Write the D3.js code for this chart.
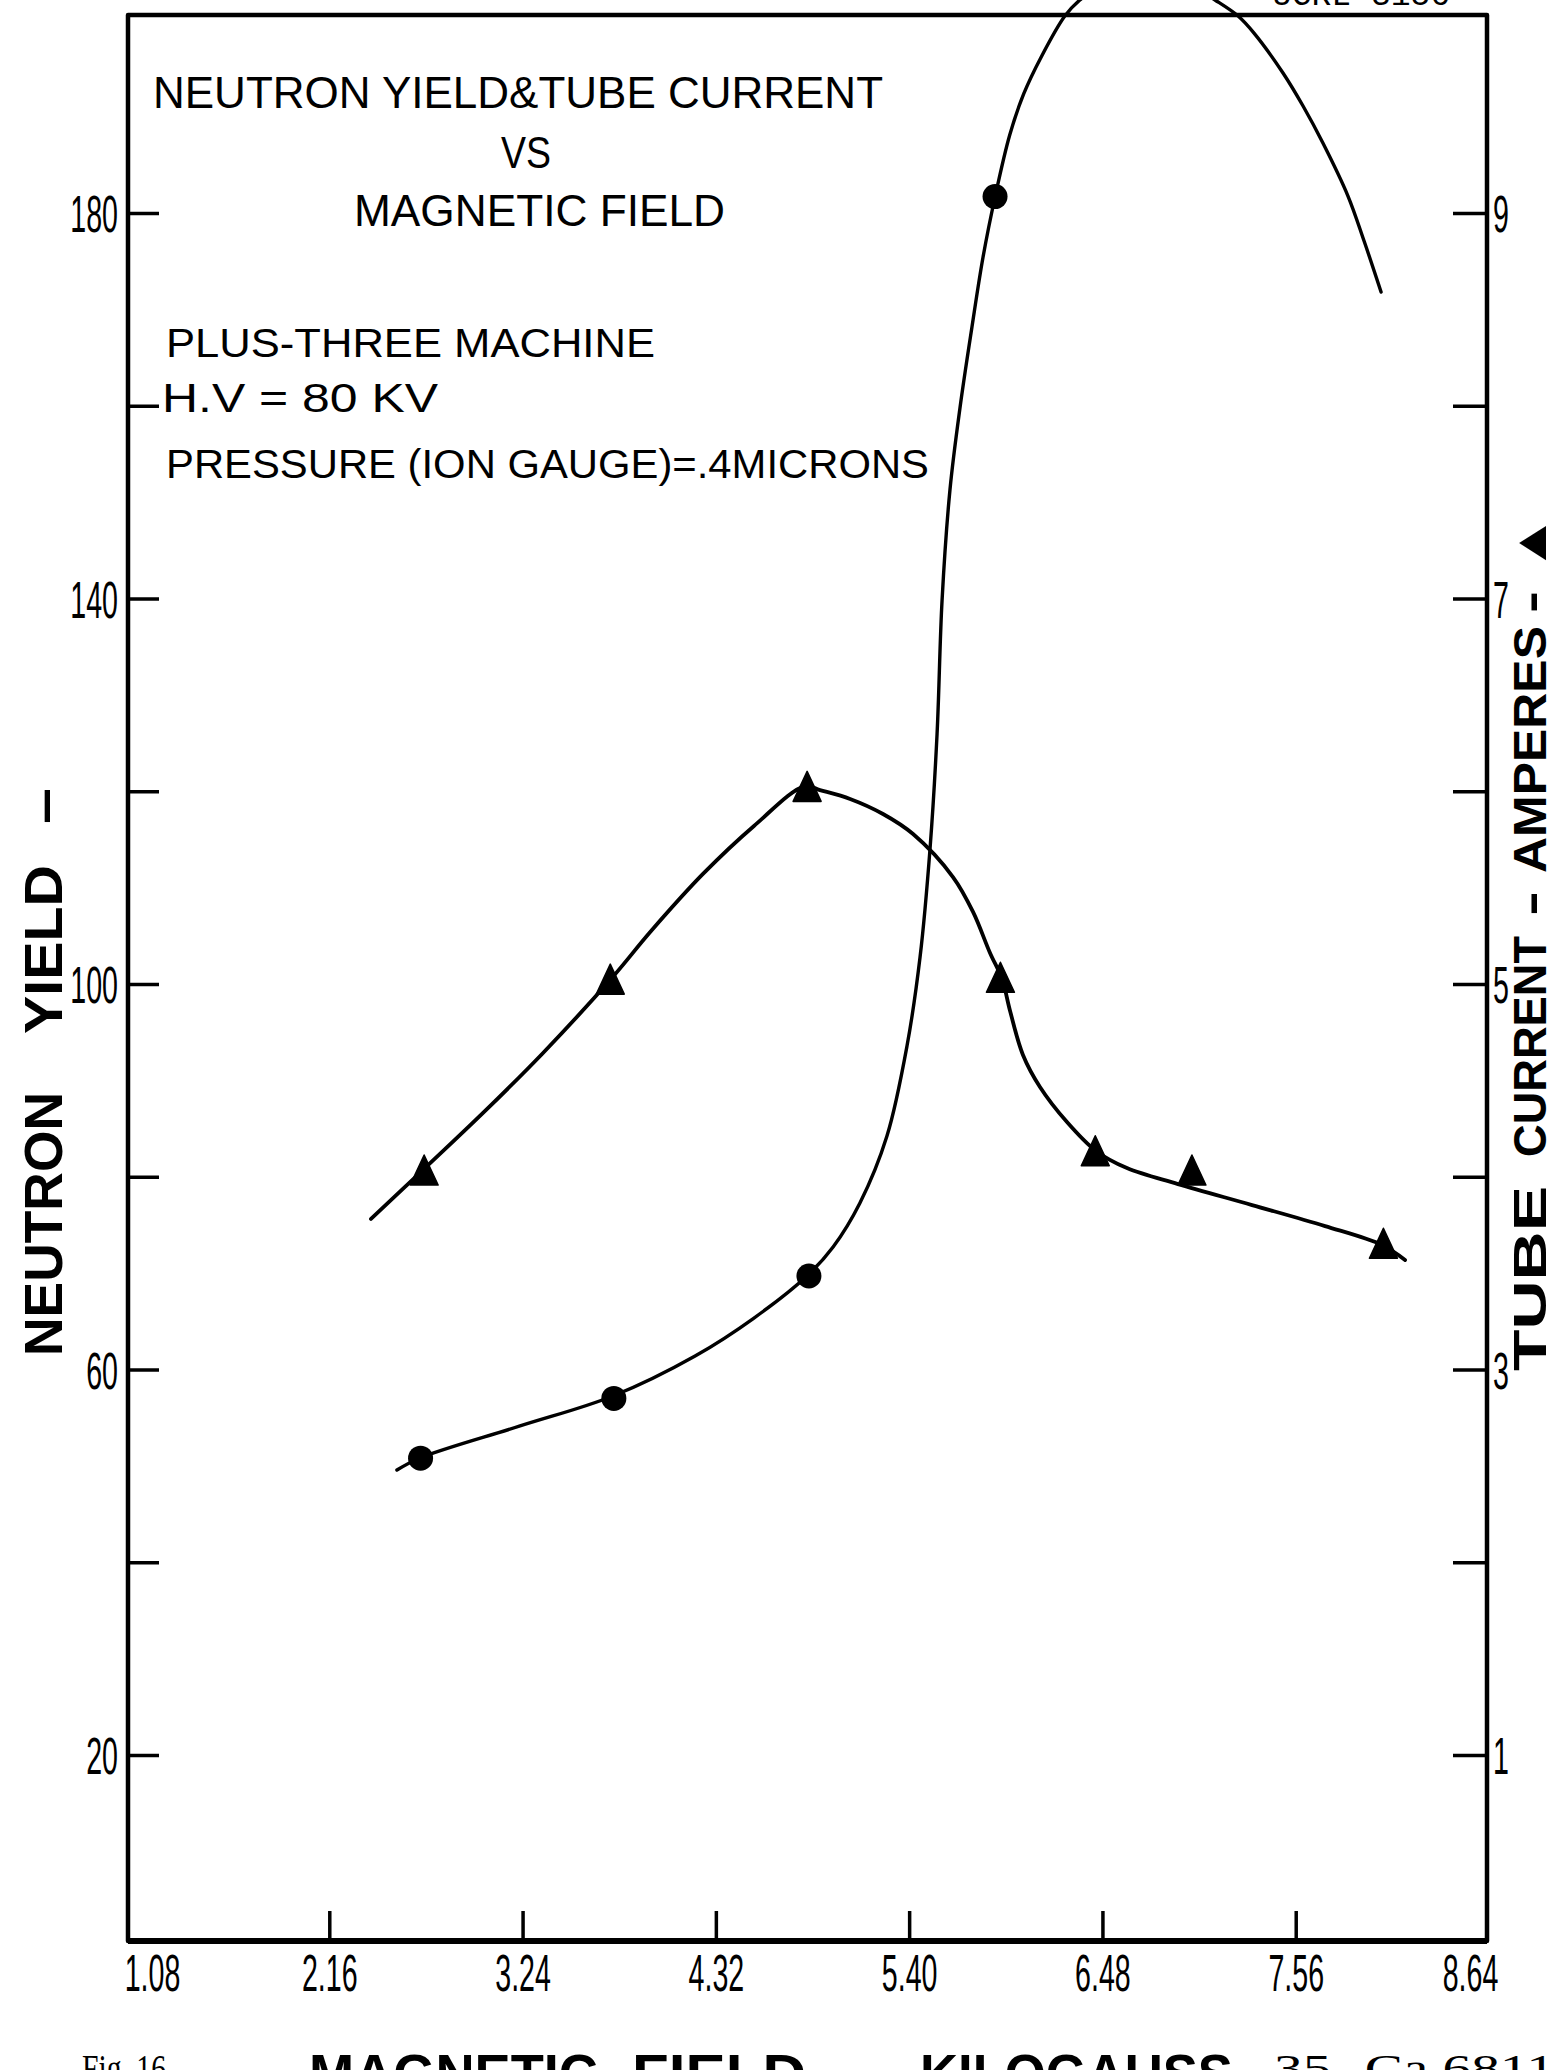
<!DOCTYPE html>
<html><head><meta charset="utf-8">
<script src="https://cdn.jsdelivr.net/npm/d3@7"></script>
<style>html,body{margin:0;padding:0;background:#fff;overflow:hidden}svg{display:block}</style>
</head><body><svg id="c" width="1557" height="2070"></svg>
<script>
// ---------- data ----------
const xTickValues = [1.08, 2.16, 3.24, 4.32, 5.40, 6.48, 7.56, 8.64];
const xTickLabels = ["1.08", "2.16", "3.24", "4.32", "5.40", "6.48", "7.56", "8.64"];
const yieldTickValues = [20, 40, 60, 80, 100, 120, 140, 160, 180];
const yieldTickLabels = ["20", "", "60", "", "100", "", "140", "", "180"];
const currentTickValues = [1, 2, 3, 4, 5, 6, 7, 8, 9];
const currentTickLabels = ["1", "", "3", "", "5", "", "7", "", "9"];

// measured points (kilogauss, neutron yield) - circles
const yieldPointsX = [2.67, 3.75, 4.84, 5.88];
const yieldPointsY = [50.8, 57.0, 69.7, 181.7];
// measured points (kilogauss, tube current A) - triangles
const currentPointsX = [2.69, 3.73, 4.83, 5.91, 6.44, 6.98, 8.05];
const currentPointsY = [4.03, 5.02, 6.02, 5.03, 4.13, 4.03, 3.65];

// hand-drawn smooth curves
const yieldCurveX = [2.538, 2.667, 3.226, 3.745, 4.204, 4.533, 4.835, 4.975, 5.125, 5.276, 5.388, 5.461, 5.517, 5.556, 5.584, 5.628, 5.684, 5.751, 5.813, 5.880, 5.962, 6.040, 6.138, 6.270, 6.354, 6.522, 6.718, 6.941, 7.109, 7.238, 7.327, 7.489, 7.601, 7.712, 7.852, 7.942, 8.037];
const yieldCurveY = [49.57, 50.82, 54.14, 57.25, 61.40, 65.34, 69.81, 72.71, 77.28, 84.23, 93.57, 102.80, 114.11, 125.94, 139.84, 151.26, 159.77, 168.17, 175.43, 181.66, 188.09, 192.35, 196.19, 200.44, 202.10, 204.17, 205.0, 203.97, 202.10, 200.44, 198.67, 194.53, 191.10, 187.26, 181.76, 177.09, 171.80];
const currentCurveX = [2.393, 2.689, 3.019, 3.349, 3.734, 3.958, 4.248, 4.533, 4.818, 4.902, 5.070, 5.254, 5.422, 5.645, 5.757, 5.852, 5.919, 5.964, 6.036, 6.131, 6.282, 6.444, 6.617, 6.902, 7.316, 7.724, 8.042, 8.171];
const currentCurveY = [3.781, 4.040, 4.331, 4.637, 5.026, 5.275, 5.571, 5.820, 6.027, 6.006, 5.960, 5.882, 5.778, 5.555, 5.374, 5.161, 5.026, 4.860, 4.632, 4.466, 4.284, 4.134, 4.045, 3.962, 3.853, 3.744, 3.646, 3.568];

// ---------- layout ----------
const svg = d3.select("#c");
const FR = {l: 128, r: 1487, t: 15, b: 1941};
const x = d3.scaleLinear().domain([1.08, 8.64]).range([136, 1489]);
const yL = d3.scaleLinear().domain([20, 180]).range([1755, 213]);
const yR = d3.scaleLinear().domain([1, 9]).range([1755, 213]);
const numFont = "'Liberation Sans', Arial, sans-serif";
const letterFont = "'Liberation Sans Narrow', 'Liberation Sans', Arial, sans-serif";
const SX = 0.55;

// frame
svg.append("path")
  .attr("d", `M${FR.l},${FR.t}H${FR.r}V${FR.b}H${FR.l}Z`)
  .attr("fill", "none").attr("stroke", "#000").attr("stroke-width", 4.5).attr("stroke-linejoin", "round");
svg.append("line").attr("x1", FR.l).attr("x2", FR.r).attr("y1", FR.b).attr("y2", FR.b)
  .attr("stroke", "#000").attr("stroke-width", 6);

// bottom axis
const gB = svg.append("g").attr("transform", `translate(0,${FR.b})`)
  .call(d3.axisBottom(x).tickValues(xTickValues)
    .tickFormat(d => xTickLabels[xTickValues.indexOf(d)])
    .tickSizeInner(-30).tickSizeOuter(0).tickPadding(13));
gB.select(".domain").remove();
gB.selectAll(".tick line").attr("stroke", "#000").attr("stroke-width", 3.5)
  .attr("display", d => (d === xTickValues[0] || d === xTickValues[xTickValues.length - 1]) ? "none" : null);
gB.selectAll(".tick text").attr("font-family", numFont).attr("font-size", 52).attr("fill", "#000")
  .attr("transform", d => {
    const dx = d === xTickValues[0] ? 16 : (d === xTickValues[xTickValues.length - 1] ? -19 : 0);
    return `translate(${dx},0) scale(${SX},1)`;
  });

// left axis (neutron yield)
const gL = svg.append("g").attr("transform", `translate(${FR.l},0)`)
  .call(d3.axisLeft(yL).tickValues(yieldTickValues)
    .tickFormat(d => yieldTickLabels[yieldTickValues.indexOf(d)])
    .tickSizeInner(-31).tickSizeOuter(0).tickPadding(9));
gL.select(".domain").remove();
gL.selectAll(".tick line").attr("stroke", "#000").attr("stroke-width", 3.5);
gL.selectAll(".tick text").attr("x", 0).attr("dy", "0.36em")
  .attr("font-family", numFont).attr("font-size", 52).attr("fill", "#000")
  .attr("transform", `translate(-10,0) scale(${SX},1)`);

// right axis (tube current)
const gR = svg.append("g").attr("transform", `translate(${FR.r},0)`)
  .call(d3.axisRight(yR).tickValues(currentTickValues)
    .tickFormat(d => currentTickLabels[currentTickValues.indexOf(d)])
    .tickSizeInner(-34).tickSizeOuter(0).tickPadding(6));
gR.select(".domain").remove();
gR.selectAll(".tick line").attr("stroke", "#000").attr("stroke-width", 3.5);
gR.selectAll(".tick text").attr("x", 0).attr("dy", "0.36em")
  .attr("font-family", numFont).attr("font-size", 52).attr("fill", "#000")
  .attr("transform", `translate(6,0) scale(${SX},1)`);

// curves
const line = d3.line().curve(d3.curveCatmullRom.alpha(0.5));
svg.append("path")
  .attr("d", line(yieldCurveX.map((v, i) => [x(v), yL(yieldCurveY[i])])))
  .attr("fill", "none").attr("stroke", "#000").attr("stroke-width", 3.4).attr("stroke-linecap", "round");
svg.append("path")
  .attr("d", line(currentCurveX.map((v, i) => [x(v), yR(currentCurveY[i])])))
  .attr("fill", "none").attr("stroke", "#000").attr("stroke-width", 3.8).attr("stroke-linecap", "round");

// markers
svg.append("g").selectAll("circle").data(yieldPointsX).join("circle")
  .attr("cx", d => x(d)).attr("cy", (d, i) => yL(yieldPointsY[i])).attr("r", 12.5).attr("fill", "#000");
svg.append("g").selectAll("path").data(currentPointsX).join("path")
  .attr("transform", (d, i) => `translate(${x(d)},${yR(currentPointsY[i])})`)
  .attr("d", "M0,-16L14,14L-14,14Z").attr("fill", "#000")
  .attr("stroke", "#000").attr("stroke-width", 1.5).attr("stroke-linejoin", "round");

// annotation block
const notes = [
  {t: "NEUTRON YIELD&TUBE CURRENT", x: 153, y: 108, w: 730, fs: 45},
  {t: "VS", x: 501, y: 168, w: 50, fs: 44},
  {t: "MAGNETIC  FIELD", x: 354, y: 226, w: 371, fs: 44},
  {t: "PLUS-THREE MACHINE", x: 166, y: 357, w: 489, fs: 41},
  {t: "H.V = 80  KV", x: 162, y: 412, w: 276, fs: 41},
  {t: "PRESSURE (ION GAUGE)=.4MICRONS", x: 166, y: 478, w: 763, fs: 41}
];
svg.append("g").selectAll("text").data(notes).join("text")
  .attr("x", d => d.x).attr("y", d => d.y).attr("font-size", d => d.fs)
  .attr("font-family", letterFont).attr("fill", "#000")
  .attr("textLength", d => d.w).attr("lengthAdjust", "spacingAndGlyphs")
  .text(d => d.t);

// left axis title
const lt = svg.append("g").attr("transform", "translate(62,1356) rotate(-90)")
  .attr("font-family", numFont).attr("font-weight", "bold").attr("font-size", 54).attr("fill", "#000");
[{t: "NEUTRON", x: 0, w: 264}, {t: "YIELD", x: 322, w: 169}, {t: "\u2013", x: 532, w: 36}].forEach(p =>
  lt.append("text").attr("x", p.x).attr("y", 0).attr("textLength", p.w).attr("lengthAdjust", "spacingAndGlyphs").text(p.t));

// right axis title
const rt = svg.append("g").attr("transform", "translate(1546,1371) rotate(-90)")
  .attr("font-family", numFont).attr("font-weight", "bold").attr("font-size", 46).attr("fill", "#000");
[{t: "TUBE", x: 0, w: 185}, {t: "CURRENT", x: 214, w: 221}, {t: "-", x: 455, w: 25},
 {t: "AMPERES", x: 498, w: 247}, {t: "-", x: 758, w: 22}, {t: "\u25B2", x: 799, w: 58}].forEach(p =>
  rt.append("text").attr("x", p.x).attr("y", 0).attr("textLength", p.w).attr("lengthAdjust", "spacingAndGlyphs").text(p.t));

// bottom axis title (cut by page edge, as in the original scan)
const bt = svg.append("g").attr("font-family", numFont).attr("font-weight", "bold").attr("font-size", 56).attr("fill", "#000");
[{t: "MAGNETIC", x: 309, w: 289}, {t: "FIELD", x: 632, w: 174}, {t: "\u2014", x: 836, w: 60}, {t: "KILOGAUSS", x: 920, w: 313}].forEach(p =>
  bt.append("text").attr("x", p.x).attr("y", 2093).attr("textLength", p.w).attr("lengthAdjust", "spacingAndGlyphs").text(p.t));

svg.append("text").attr("x", 82).attr("y", 2082).attr("font-family", "'Liberation Serif', serif").attr("font-size", 40)
  .attr("textLength", 84).attr("lengthAdjust", "spacingAndGlyphs").text("Fig. 16");
svg.append("text").attr("x", 1255).attr("y", 2082).attr("font-family", "'Liberation Serif', serif").attr("font-size", 40)
  .attr("textLength", 300).attr("lengthAdjust", "spacingAndGlyphs").text("-35-  Ca 6811");
svg.append("text").attr("x", 1272).attr("y", 5).attr("font-family", "'Liberation Mono', monospace").attr("font-size", 34)
  .attr("textLength", 178).attr("lengthAdjust", "spacingAndGlyphs").text("UCRL-3156");
</script>
</body></html>
